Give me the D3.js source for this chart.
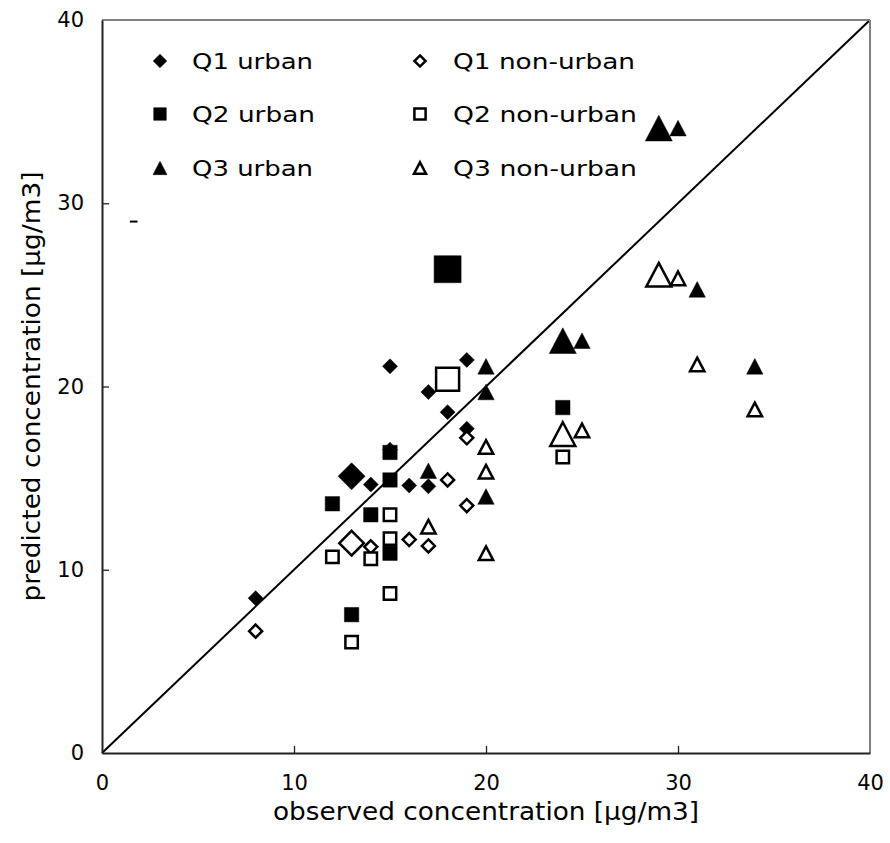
<!DOCTYPE html>
<html>
<head>
<meta charset="utf-8">
<script src="https://cdn.jsdelivr.net/npm/d3@7"></script>
<style>
  html, body { margin: 0; padding: 0; background: #fff; }
  svg { display: block; }
  text { font-family: "DejaVu Sans", "Noto Sans", sans-serif; fill: #000; }
</style>
</head>
<body>
<svg id="chart" width="890" height="843"></svg>
<script>
// ---------------- data ----------------
const xTicks = [0, 10, 20, 30, 40];
const yTicks = [0, 10, 20, 30, 40];
const xTitle = "observed concentration [µg/m3]";
const yTitle = "predicted concentration [µg/m3]";
const seriesNames = ["Q1 urban", "Q1 non-urban", "Q2 urban", "Q2 non-urban", "Q3 urban", "Q3 non-urban"];

// individual points [observed, predicted]
const q1Urban    = [[8, 8.45], [14, 14.65], [15, 21.1], [15, 16.55], [16, 14.6], [17, 19.7], [17, 14.55], [18, 18.6], [19, 21.45], [19, 17.7]];
const q1NonUrban = [[8, 6.65], [14, 11.25], [16, 11.65], [17, 11.3], [18, 14.9], [19, 17.2], [19, 13.5]];
const q2Urban    = [[12, 13.6], [13, 7.55], [14, 13.0], [15, 16.4], [15, 14.9], [15, 10.9], [24, 18.85]];
const q2NonUrban = [[12, 10.7], [13, 6.05], [14, 10.6], [15, 13.0], [15, 11.7], [15, 8.7], [24, 16.15]];
const q3Urban    = [[17, 15.4], [20, 21.1], [20, 19.7], [20, 14.0], [25, 22.5], [30, 34.1], [31, 25.3], [34, 21.1]];
const q3NonUrban = [[17, 12.35], [20, 16.7], [20, 15.35], [20, 10.9], [25, 17.6], [30, 25.9], [31, 21.2], [34, 18.75]];

// mean points (drawn with large markers)
const q1UrbanMean    = [[13, 15.1]];
const q1NonUrbanMean = [[13, 11.45]];
const q2UrbanMean    = [[18, 26.4]];
const q2NonUrbanMean = [[18, 20.4]];
const q3UrbanMean    = [[24, 22.5], [29, 34.1]];
const q3NonUrbanMean = [[24, 17.4], [29, 26.1]];

// 1:1 line and a stray mark in the original
const identityLine = [[0, 0], [40, 40]];
const strayMark = [[1.45, 29.0], [1.85, 29.0]];

// ---------------- chart ----------------
const svg = d3.select("#chart");
const x = d3.scaleLinear().domain([0, 40]).range([102, 870]);
const y = d3.scaleLinear().domain([0, 40]).range([753, 20]);

// symbol path generator (half-size r)
function symPath(shape, r) {
  if (shape === "diamond") return `M0,${-r}L${r},0L0,${r}L${-r},0Z`;
  if (shape === "square") return `M${-r},${-r}H${r}V${r}H${-r}Z`;
  const h = r * 0.95;
  return `M0,${-h}L${r},${h}L${-r},${h}Z`;
}

const styles = [
  { shape: "diamond",  filled: true },
  { shape: "diamond",  filled: false },
  { shape: "square",   filled: true },
  { shape: "square",   filled: false },
  { shape: "triangle", filled: true },
  { shape: "triangle", filled: false }
];

const sizeSmall = { diamond: [7.5, 6.5], square: [7.2, 6.2], triangle: [8.2, 7.2] };
const sizeLarge = { diamond: [13.5, 12.3], square: [13.5, 11.5], triangle: [13.5, 12.5] };

const lineGen = d3.line().x(d => x(d[0])).y(d => y(d[1]));

// identity line
svg.append("path")
  .attr("d", lineGen(identityLine))
  .attr("stroke", "#000").attr("stroke-width", 2).attr("fill", "none");

// stray mark
svg.append("path")
  .attr("d", lineGen(strayMark))
  .attr("stroke", "#000").attr("stroke-width", 2).attr("fill", "none");

function drawSeries(data, idx, large) {
  const st = styles[idx];
  const r = (large ? sizeLarge : sizeSmall)[st.shape][st.filled ? 0 : 1];
  svg.append("g").selectAll("path").data(data).join("path")
    .attr("transform", d => `translate(${x(d[0])},${y(d[1])})`)
    .attr("d", symPath(st.shape, r))
    .attr("fill", st.filled ? "#000" : "#fff")
    .attr("stroke", "#000")
    .attr("stroke-width", st.filled ? 0.5 : 2.5)
    .attr("stroke-linejoin", "miter");
}

const points = [q1Urban, q1NonUrban, q2Urban, q2NonUrban, q3Urban, q3NonUrban];
const means = [q1UrbanMean, q1NonUrbanMean, q2UrbanMean, q2NonUrbanMean, q3UrbanMean, q3NonUrbanMean];
points.forEach((d, i) => drawSeries(d, i, false));
means.forEach((d, i) => drawSeries(d, i, true));

// frame: top & right grey
svg.append("line").attr("x1", x(0)).attr("x2", x(40)).attr("y1", y(40)).attr("y2", y(40))
  .attr("stroke", "#808080").attr("stroke-width", 2);
svg.append("line").attr("x1", x(40)).attr("x2", x(40)).attr("y1", y(40)).attr("y2", y(0))
  .attr("stroke", "#808080").attr("stroke-width", 2);

// axes
const xAxis = d3.axisBottom(x).tickValues(xTicks).tickSizeInner(-7).tickSizeOuter(0).tickPadding(22);
const yAxis = d3.axisLeft(y).tickValues(yTicks).tickSizeInner(-7).tickSizeOuter(0).tickPadding(18);

const gx = svg.append("g").attr("transform", `translate(0,${y(0)})`).call(xAxis);
const gy = svg.append("g").attr("transform", `translate(${x(0)},0)`).call(yAxis);
[gx, gy].forEach(g => {
  g.select(".domain").attr("stroke", "#222").attr("stroke-width", 2);
  g.selectAll(".tick line").attr("stroke", "#222").attr("stroke-width", 1.3);
  g.selectAll(".tick text").attr("font-size", 21).attr("font-family", "DejaVu Sans, sans-serif").attr("fill", "#000");
});
gx.selectAll(".tick").filter(d => d === 0 || d === 40).select("line").remove();
gy.selectAll(".tick").filter(d => d === 0 || d === 40).select("line").remove();

// axis titles
svg.append("text")
  .attr("x", x(20)).attr("y", 820)
  .attr("text-anchor", "middle")
  .attr("font-size", 24)
  .attr("textLength", 426).attr("lengthAdjust", "spacingAndGlyphs")
  .text(xTitle);

svg.append("text")
  .attr("transform", `translate(40,${y(20)}) rotate(-90)`)
  .attr("text-anchor", "middle")
  .attr("font-size", 24)
  .attr("textLength", 430).attr("lengthAdjust", "spacingAndGlyphs")
  .text(yTitle);

// legend
const legendCols = [{ mx: 160, tx: 192, w: [121, 123, 121] }, { mx: 420, tx: 453, w: [182, 184, 184] }];
const legendRows = [61, 114, 168];
const legendSize = { diamond: [6.8, 5.6], square: [6.3, 5.6], triangle: [7.0, 6.0] };
seriesNames.forEach((name, i) => {
  const col = legendCols[i % 2];
  const row = Math.floor(i / 2);
  const st = styles[i];
  const r = legendSize[st.shape][st.filled ? 0 : 1];
  svg.append("path")
    .attr("transform", `translate(${col.mx},${legendRows[row]})`)
    .attr("d", symPath(st.shape, r))
    .attr("fill", st.filled ? "#000" : "#fff")
    .attr("stroke", "#000")
    .attr("stroke-width", st.filled ? 0.5 : 2.5);
  svg.append("text")
    .attr("x", col.tx).attr("y", legendRows[row])
    .attr("dy", "0.36em")
    .attr("font-size", 21)
    .attr("textLength", col.w[row]).attr("lengthAdjust", "spacingAndGlyphs")
    .text(name);
});
</script>
</body>
</html>
